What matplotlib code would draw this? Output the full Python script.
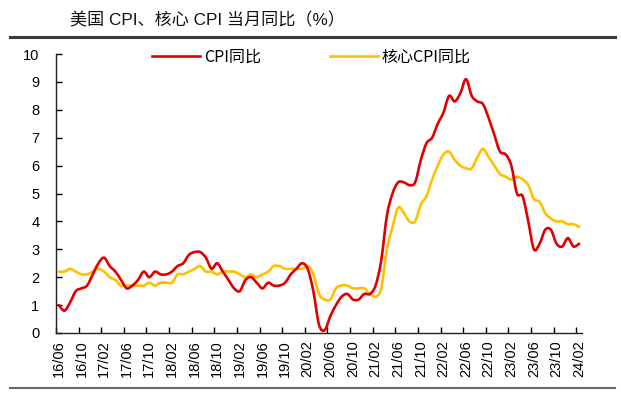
import matplotlib
matplotlib.use("Agg")
import matplotlib.pyplot as plt
from matplotlib.lines import Line2D
from matplotlib.path import Path
from matplotlib.patches import PathPatch
import numpy as np

months = []
for y in range(2016, 2025):
    for m in range(1, 13):
        if (y, m) < (2016, 6) or (y, m) > (2024, 2):
            continue
        months.append(f"{y % 100:02d}/{m:02d}")

cpi = [1.0, 0.8, 1.1, 1.5, 1.6, 1.7, 2.1,
       2.5, 2.7, 2.4, 2.2, 1.9, 1.6, 1.7, 1.9, 2.2, 2.0, 2.2, 2.1,
       2.1, 2.2, 2.4, 2.5, 2.8, 2.9, 2.9, 2.7, 2.3, 2.5, 2.2, 1.9,
       1.6, 1.5, 1.9, 2.0, 1.8, 1.6, 1.8, 1.7, 1.7, 1.8, 2.1, 2.3,
       2.5, 2.3, 1.5, 0.3, 0.1, 0.6, 1.0, 1.3, 1.4, 1.2, 1.2, 1.4,
       1.4, 1.7, 2.6, 4.2, 5.0, 5.4, 5.4, 5.3, 5.4, 6.2, 6.8, 7.0,
       7.5, 7.9, 8.5, 8.3, 8.6, 9.1, 8.5, 8.3, 8.2, 7.7, 7.1, 6.5,
       6.4, 6.0, 5.0, 4.9, 4.0, 3.0, 3.2, 3.7, 3.7, 3.2, 3.1, 3.4,
       3.1, 3.2]

core = [2.2, 2.2, 2.3, 2.2, 2.1, 2.1, 2.2,
        2.3, 2.2, 2.0, 1.9, 1.7, 1.7, 1.7, 1.7, 1.7, 1.8, 1.7, 1.8,
        1.8, 1.8, 2.1, 2.1, 2.2, 2.3, 2.4, 2.2, 2.2, 2.1, 2.2, 2.2,
        2.2, 2.1, 2.0, 2.1, 2.0, 2.1, 2.2, 2.4, 2.4, 2.3, 2.3, 2.3,
        2.3, 2.4, 2.1, 1.4, 1.2, 1.2, 1.6, 1.7, 1.7, 1.6, 1.6, 1.6,
        1.4, 1.3, 1.6, 3.0, 3.8, 4.5, 4.3, 4.0, 4.0, 4.6, 4.9, 5.5,
        6.0, 6.4, 6.5, 6.2, 6.0, 5.9, 5.9, 6.3, 6.6, 6.3, 6.0, 5.7,
        5.6, 5.5, 5.6, 5.5, 5.3, 4.8, 4.7, 4.3, 4.1, 4.0, 4.0, 3.9,
        3.9, 3.8]

title = "美国 CPI、核心 CPI 当月同比（%）"
series_names = ["CPI同比", "核心CPI同比"]
colors = ["#E00000", "#FFC000"]


def smooth_path(xs, ys):
    """Bezier path through the data points (Excel-style smoothed line)."""
    p = np.column_stack([xs, ys]).astype(float)
    n = len(p)
    verts = [p[0]]
    codes = [Path.MOVETO]
    for i in range(n - 1):
        p0 = p[i - 1] if i > 0 else p[i]
        p1, p2 = p[i], p[i + 1]
        p3 = p[i + 2] if i + 2 < n else p[i + 1]
        c1 = p1 + (p2 - p0) / 6.0
        c2 = p2 - (p3 - p1) / 6.0
        verts += [c1, c2, p2]
        codes += [Path.CURVE4] * 3
    return Path(verts, codes)


fig = plt.figure(figsize=(6.21, 3.93), dpi=100)
ax = fig.add_axes([56 / 621, 1 - 333 / 393, (582 - 56) / 621, (333 - 54) / 393])

x = np.arange(len(months))
lw = 1.9
for ys, c, z in [(core, colors[1], 2), (cpi, colors[0], 3)]:
    ax.add_patch(PathPatch(smooth_path(x, ys), facecolor="none", edgecolor=c,
                           lw=lw, joinstyle="round", capstyle="round", zorder=z))
h1 = Line2D([], [], color=colors[0], lw=lw)
h2 = Line2D([], [], color=colors[1], lw=lw)

ax.set_xlim(-0.5, len(months) - 0.5)
ax.set_ylim(0, 10)
ax.set_yticks(range(0, 11))
ax.tick_params(axis="y", direction="in", length=4, width=1, pad=12, labelsize=10.5)
for lab in ax.get_yticklabels():
    lab.set_family(["Liberation Sans"])

label_pos = x[::4]
ax.set_xticks(label_pos)
ax.set_xticklabels([months[i] for i in label_pos], rotation=90,
                   family=["Liberation Sans"], fontsize=10.5)
ax.tick_params(axis="x", length=0, pad=5)
ax.set_xticks(np.arange(-0.5, len(months), 4), minor=True)
ax.tick_params(axis="x", which="minor", direction="in", length=4, width=1)

for s in ["top", "right"]:
    ax.spines[s].set_visible(False)
for s in ["left", "bottom"]:
    ax.spines[s].set_linewidth(1.0)
    ax.spines[s].set_color("#222222")

leg = fig.legend([h1, h2], series_names, loc="center left",
                 bbox_to_anchor=(138 / 621, 1 - 57 / 393), ncol=2, frameon=False,
                 handlelength=3.0, handletextpad=0.25, columnspacing=4.3,
                 prop={"family": ["Noto Sans CJK SC"], "size": 11.5})

fig.text(70 / 621, 1 - 20 / 393, title, ha="left", va="center", fontsize=12.3,
         family=["Liberation Sans", "Noto Sans CJK SC"], color="#111111")

fig.add_artist(Line2D([10 / 621, 615 / 621], [1 - 37 / 393] * 2, color="#3a3a3a", lw=2.2))
fig.add_artist(Line2D([10 / 621, 615 / 621], [1 - 388 / 393] * 2, color="#666666", lw=1.5))

fig.savefig("out.png", dpi=100)
